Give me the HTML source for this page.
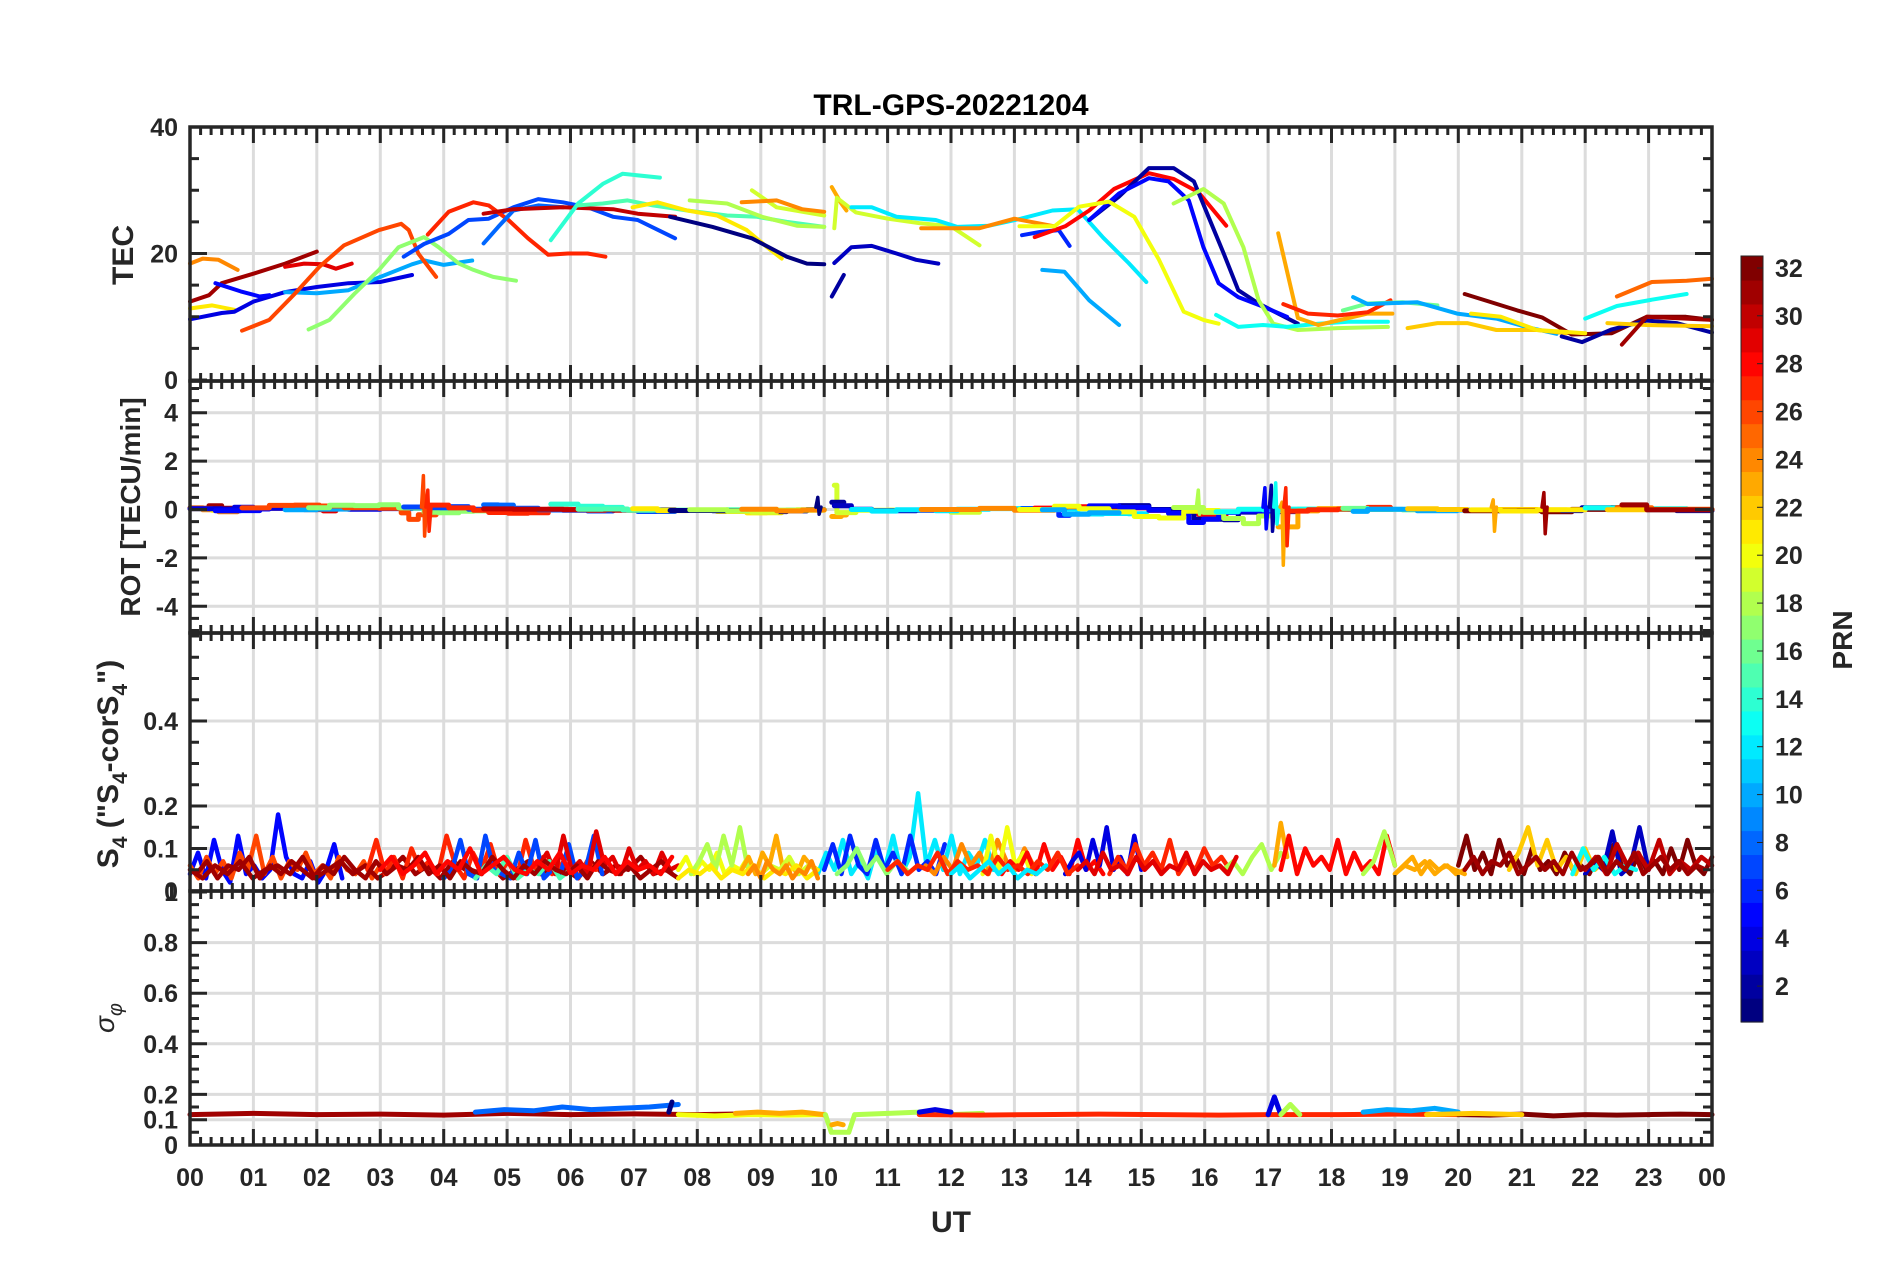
<!DOCTYPE html>
<html><head><meta charset="utf-8"><title>TRL-GPS-20221204</title>
<style>
html,body{margin:0;padding:0;background:#fff;}
svg{display:block;font-family:"Liberation Sans",Arial,sans-serif;}
</style></head>
<body>
<svg id="chart" width="1902" height="1272" viewBox="0 0 1902 1272" xmlns="http://www.w3.org/2000/svg">
<rect x="0" y="0" width="1902" height="1272" fill="#fff"/>
<g id="grids"></g>
<g id="series"></g>
<g id="axes"></g>
<g id="cbar"></g>
<text x="951" y="115" text-anchor="middle" font-size="30" font-weight="bold" fill="#000">TRL-GPS-20221204</text>
<text x="951" y="1232" text-anchor="middle" font-size="30" font-weight="bold" fill="#262626">UT</text>
<text transform="translate(133,255) rotate(-90)" text-anchor="middle" font-size="30" font-weight="bold" fill="#262626">TEC</text>
<text transform="translate(140,507) rotate(-90)" text-anchor="middle" font-size="28" font-weight="bold" fill="#262626">ROT [TECU/min]</text>
<text transform="translate(118,764) rotate(-90)" text-anchor="middle" font-size="30" font-weight="bold" fill="#262626">S<tspan font-size="21" dy="9">4</tspan><tspan dy="-9"> ("S</tspan><tspan font-size="21" dy="9">4</tspan><tspan dy="-9">-corS</tspan><tspan font-size="21" dy="9">4</tspan><tspan dy="-9">")</tspan></text>
<text transform="translate(114,1018) rotate(-90)" text-anchor="middle" font-size="28" font-style="italic" fill="#262626">σ<tspan font-size="20" dy="8">φ</tspan></text>
<text transform="translate(1852,640) rotate(-90)" text-anchor="middle" font-size="28" font-weight="bold" fill="#262626">PRN</text>
</svg>
<script>
// ---------- TEC arcs ----------
const tecPrn = [24,31,29,21,4,5,10,26,17,7,27,8,30,14,15,21,1,18,19,24,23,19,2,3,12,24,6,28,2,5,20,18,10,13,23,27,16,10,22,32,2,21,13,25,22,31];
const tecTimes = [
[0,0.2,0.45,0.75],[0,0.3,0.5,1.0,1.5,2.0],[1.5,1.8,2.1,2.3,2.55],[0,0.35,0.7],
[0,0.5,0.7,1.0,1.5,2.0,2.5,3.0,3.5],[0.4,0.8,1.1,1.25],[1.5,2.0,2.5,3.0,3.5,3.7,4.0,4.45],
[0.82,1.25,1.65,2.04,2.43,2.98,3.33,3.45,3.6,3.76,3.88],
[1.87,2.2,2.59,2.98,3.29,3.69,3.92,4.24,4.47,4.78,5.14],
[3.37,3.69,4.08,4.39,4.71,5.1,5.49,5.88,6.27,6.67,7.06,7.65],
[3.75,4.08,4.47,4.71,5.02,5.33,5.65,5.96,6.27,6.55],
[4.63,4.86,5.1,5.49,5.88],[4.63,5.1,5.88,6.67,7.06,7.65],[5.69,6.12,6.51,6.82,7.41],
[6.12,6.51,6.9,7.3,7.84,8.47,8.94,9.41,10.0],[6.98,7.37,7.84,8.31,8.78,9.1,9.33],
[7.57,8.24,8.86,9.41,9.73,10.0],[7.88,8.47,9.02,9.57,10.0],[8.86,9.25,10.0],[8.7,9.25,9.65,10.0],
[10.12,10.27,10.35],[10.16,10.2,10.5,11,11.5,12.0,12.45],[10.12,10.31],[10.16,10.43,10.75,11.14,11.45,11.8],
[10.43,10.75,11.14,11.76,12.1,12.6,13.1,13.6,14.0,14.4,14.8,15.08],[11.53,12.0,12.45,13.0,13.63],
[13.12,13.4,13.7,13.87],[13.32,13.8,14.18,14.57,15.12,15.51,15.9,16.34],
[14.18,14.65,15.12,15.51,15.83,16.06,16.3,16.53,16.85,17.16,17.47],
[14.18,14.65,15.12,15.43,15.75,15.98,16.22,16.53,16.92,17.3],
[13.08,13.63,14.02,14.49,14.89,15.28,15.67,15.98,16.22],
[15.51,15.98,16.3,16.61,16.85,17.08,17.47,18.1,18.89],[13.44,13.79,14.18,14.65],
[16.18,16.53,16.92,17.3,17.79,18.26,18.89],[17.16,17.47,17.79,18.1,18.57,18.96],
[17.24,17.63,18.1,18.57,18.93],[18.18,18.57,19.12,19.67],[18.34,18.57,19.35,19.98,20.6,21.07,21.55],
[19.2,19.67,20.14,20.6,21.24,21.71],[20.1,20.45,20.93,21.32,21.79,22.42,22.97,23.59,24],
[21.63,21.95,22.42,22.97,23.44,24],[20.2,20.67,21.24,22.0],[22.0,22.5,23.05,23.6],
[22.5,23.05,23.6,24],[22.35,22.97,24],[22.58,22.97,23.59,24]];
const tecValues = [
[18.4,19.2,19,17.4],[12.4,13.4,15.3,16.8,18.4,20.3],[17.9,18.4,18.3,17.6,18.4],[11.3,11.8,11.1],
[9.6,10.6,10.8,12.4,13.9,14.7,15.3,15.5,16.6],[15.3,14,13.2,13.4],[13.9,13.7,14.2,16.3,18.3,18.9,18.2,18.9],
[7.8,9.5,13.6,17.9,21.3,23.7,24.7,23.7,20,17.9,16.3],
[8,9.5,13.6,17.4,21,22.6,21,18.4,17.4,16.3,15.7],
[19.5,21.5,23.1,25.3,25.5,27.3,28.6,28.1,27.3,25.8,25.3,22.4],
[23,26.6,28.1,27.6,25.3,22.4,19.8,20,20,19.5],
[21.6,24.2,26.8,27.6,27.3],[26.3,27,27.3,27,26.3,25.8],[22.1,27.9,31,32.6,32],
[27.6,27.9,28.4,27.6,26.8,26,25.8,25,24.2],[27.3,28.1,26.8,26,23.7,21,19.2],
[25.8,24.2,22.4,19.5,18.4,18.3],[28.4,27.9,25.8,24.4,24.2],[30,27.3,26],[28.1,28.4,27,26.6],
[30.5,27.9,26.8],[24,28.8,26.5,25.5,24.8,24.3,21.3],[13.2,16.6],[18.5,21,21.2,20,19,18.4],
[27.3,27.3,25.8,25.3,24.2,24.4,25.5,26.8,27,22.5,18.5,15.5],[24,24,24,25.5,24.3],
[22.9,23.4,23.7,21.2],[22.6,24.3,26.8,30.2,32.7,31.8,29.7,24.4],
[25.3,29,33.5,33.5,31.4,25.8,20,14.2,12.1,10.5,8.9],
[25.3,29.5,31.9,31.4,28.4,21,15.3,13.1,11.6,10],
[24.3,24.3,27.4,28.2,25.8,19,10.8,9.5,8.9],
[27.9,30.2,27.9,21,12.6,8.9,7.9,8.2,8.4],[17.4,17.1,12.6,8.7],
[10.3,8.4,8.7,8.4,8.9,9.2,9.2],[23.2,9.8,8.7,9.4,10.5,10.5],
[12,10.5,10.2,10.7,12.6],[11,12.1,12.3,11.8],[13.1,12,12.3,10.5,9.7,8.4,7.3],
[8.2,9,9,7.9,7.9,7.4],[13.6,12.5,11,9.9,7.2,7.4,10,10,9.5],
[6.9,6,8,9.4,9,7.5],[10.5,10,7.9,7.4],[9.7,11.7,12.7,13.6],
[13.2,15.5,15.7,16],[9,8.7,8.5],[5.6,10,9.7,9.5]];

// ---------- ROT spikes ----------
const rotSpikeT   = [3.68,3.75,16.95,17.05,17.12,17.22,17.28,21.35,9.9,15.9,20.55];
const rotSpikeLo  = [-1.1,-0.9,-0.8,-0.9,-0.6,-2.3,-1.5,-1.0,-0.2,-0.2,-0.9];
const rotSpikeHi  = [1.4,0.8,0.9,1.0,1.1,0.3,0.9,0.7,0.5,0.8,0.4];
const rotSpikePrn = [26,27,5,2,13,23,27,31,1,18,23];

// ---------- S4 traces ----------
const s4Prn   = [5,26,31,27,7,29,15,20,18,23,19,12,6,17,24,20,28,4,27,18,23,28,18,23,32,22,3,13,30,31,28,21,24,27,12,29,23,31];
const s4Start = [0,0,0,2.8,4.0,5.5,4.5,7.7,7.9,8.7,9.0,9.9,10.0,10.2,11.6,12.5,12.8,13.8,14.5,16.3,17.1,17.2,18.5,19.0,20.0,20.8,22.0,21.8,22.0,0.1,3.0,7.7,8.8,11.0,12.0,14.0,19.0,20.1];
const s4End   = [2.4,3.0,7.7,6.4,6.5,7.7,6.0,8.8,8.8,9.9,9.9,12.8,11.9,11.3,13.3,13.4,14.4,15.0,16.4,17.2,17.3,19.0,19.0,20.1,24,22.3,23.0,22.8,24,7.6,7.6,9.9,9.9,14.0,13.5,16.5,20.1,23.9];
const s4Vals = [
[0.04,0.09,0.03,0.12,0.05,0.02,0.13,0.04,0.06,0.03,0.05,0.18,0.08,0.04,0.03,0.07,0.02,0.05,0.11,0.03],
[0.06,0.03,0.08,0.04,0.07,0.03,0.09,0.05,0.13,0.04,0.08,0.03,0.07,0.05,0.09,0.04,0.06,0.03,0.08,0.05,0.04,0.07,0.03,0.06],
[0.05,0.03,0.06,0.04,0.07,0.03,0.05,0.06,0.04,0.08,0.03,0.05,0.07,0.04,0.06,0.03,0.05,0.08,0.04,0.06,0.03,0.07,0.05,0.04,0.06,0.03,0.05,0.07,0.04,0.06,0.05,0.03,0.07,0.04,0.06,0.05,0.08,0.04,0.05,0.03],
[0.05,0.12,0.04,0.08,0.03,0.10,0.05,0.07,0.04,0.13,0.06,0.03,0.09,0.05,0.11,0.04,0.07,0.03,0.12,0.05,0.08,0.04,0.06,0.09,0.03,0.07,0.05],
[0.03,0.05,0.12,0.04,0.03,0.13,0.05,0.04,0.03,0.09,0.04,0.12,0.03,0.05,0.04,0.11,0.03,0.05,0.13,0.04],
[0.06,0.09,0.04,0.13,0.05,0.07,0.04,0.14,0.06,0.08,0.04,0.10,0.05,0.07,0.04,0.09,0.05,0.06],
[0.03,0.06,0.04,0.08,0.03,0.05,0.04,0.07,0.03,0.05],
[0.05,0.08,0.04,0.07,0.05,0.09,0.04,0.06,0.05,0.08],
[0.04,0.07,0.11,0.05,0.13,0.06,0.15,0.05],
[0.05,0.08,0.04,0.09,0.06,0.13,0.05,0.07,0.04,0.08,0.06,0.05],
[0.04,0.06,0.05,0.08,0.04,0.06,0.05],
[0.04,0.09,0.05,0.12,0.04,0.07,0.03,0.10,0.05,0.13,0.04,0.08,0.23,0.06,0.12,0.05,0.13,0.04,0.09,0.06,0.12,0.05,0.08],
[0.05,0.11,0.04,0.13,0.06,0.04,0.12,0.05,0.09,0.04,0.13,0.05,0.07,0.04,0.11],
[0.04,0.06,0.10,0.05,0.08,0.04,0.07,0.05],
[0.06,0.04,0.08,0.05,0.11,0.06,0.09,0.04,0.12,0.07,0.05,0.10,0.06],
[0.04,0.13,0.05,0.15,0.06,0.09,0.04,0.07],
[0.04,0.07,0.05,0.09,0.04,0.11,0.05,0.08,0.04,0.12,0.05,0.07,0.04],
[0.04,0.07,0.09,0.05,0.12,0.06,0.15,0.05,0.08,0.04,0.13,0.05],
[0.04,0.08,0.05,0.11,0.06,0.09,0.05,0.12,0.04,0.07,0.05,0.10,0.06,0.08,0.05],
[0.05,0.07,0.04,0.08,0.11,0.05,0.09],
[0.06,0.16,0.08],
[0.05,0.13,0.04,0.10,0.06,0.08,0.05,0.12,0.04,0.09,0.05,0.07,0.04,0.13,0.06],
[0.04,0.07,0.14,0.06],
[0.04,0.06,0.08,0.04,0.07,0.05,0.06,0.04,0.05],
[0.06,0.13,0.05,0.09,0.04,0.12,0.06,0.08,0.04,0.10,0.05,0.07,0.04,0.09,0.05,0.06,0.04,0.08,0.05,0.11,0.06,0.04,0.09,0.05,0.07,0.04,0.10,0.05,0.12,0.06,0.04,0.08],
[0.05,0.09,0.15,0.06,0.12,0.05,0.08,0.04,0.10,0.05,0.07],
[0.04,0.07,0.05,0.14,0.04,0.06,0.15,0.05],
[0.04,0.10,0.05,0.08,0.04,0.06,0.05],
[0.05,0.08,0.04,0.11,0.06,0.09,0.05,0.12,0.04,0.07,0.05,0.08,0.06],
[0.04,0.07,0.03,0.06,0.05,0.08,0.03,0.06,0.04,0.07,0.05,0.03,0.06,0.04,0.08,0.05,0.03,0.07,0.04,0.06,0.05,0.08,0.04,0.06,0.03,0.07,0.05,0.04,0.08,0.05,0.03,0.06,0.04,0.07,0.05,0.04,0.06,0.03,0.07,0.05,0.04,0.06,0.03,0.05,0.07,0.04],
[0.05,0.08,0.04,0.06,0.09,0.04,0.07,0.05,0.10,0.04,0.06,0.08,0.05,0.04,0.07,0.05,0.09,0.04,0.06,0.05,0.08,0.04,0.07,0.05,0.06,0.04,0.08],
[0.03,0.05,0.04,0.06,0.03,0.05,0.04,0.06,0.03,0.05,0.04,0.06,0.03,0.05],
[0.04,0.06,0.03,0.07,0.05,0.04,0.06,0.03,0.05,0.04,0.07,0.03],
[0.05,0.07,0.04,0.06,0.05,0.09,0.04,0.07,0.05,0.06,0.04,0.08,0.05,0.06,0.04,0.07,0.05,0.09,0.04,0.06],
[0.04,0.06,0.03,0.05,0.07,0.04,0.06,0.03,0.05,0.04,0.06],
[0.05,0.07,0.04,0.09,0.05,0.06,0.04,0.08,0.05,0.07,0.04,0.06,0.05,0.09,0.04,0.07,0.05,0.06,0.04,0.08],
[0.04,0.06,0.05,0.07,0.04,0.06,0.05,0.04],
[0.05,0.08,0.04,0.07,0.06,0.09,0.04,0.06,0.08,0.05,0.07,0.04,0.09,0.05,0.06,0.08,0.04,0.07,0.05,0.09,0.04,0.06,0.08,0.05,0.07,0.04,0.06,0.05]];

// ---------- sigma-phi traces ----------
const sigPrn   = [31,8,1,20,23,18,23,18,27,4,10,4,18,32,22];
const sigStart = [0,4.5,7.55,7.7,8.6,10.02,10.12,10.5,11.5,11.5,18.5,17.0,17.2,20,19.5];
const sigEnd   = [10.0,7.7,7.6,10.0,10.0,10.48,10.3,12.5,20,12.0,20,17.2,17.5,24,21];
const sigVals = [
[0.12,0.125,0.12,0.122,0.118,0.125,0.12,0.123,0.12,0.124,0.12],
[0.13,0.14,0.135,0.15,0.14,0.145,0.15,0.16],
[0.13,0.17],
[0.12,0.115,0.12,0.118,0.12],
[0.125,0.13,0.125,0.13,0.12],
[0.12,0.05,0.05,0.05,0.05,0.12],
[0.08,0.085,0.08],
[0.12,0.125,0.13,0.12,0.125],
[0.12,0.118,0.12,0.122,0.12,0.118,0.12,0.12,0.122,0.12],
[0.13,0.14,0.13],
[0.13,0.14,0.135,0.145,0.13],
[0.12,0.19,0.12],
[0.12,0.16,0.12],
[0.12,0.118,0.122,0.115,0.12,0.118,0.12,0.122,0.12],
[0.12,0.125,0.12]];

const xTickLabels = ['00','01','02','03','04','05','06','07','08','09','10','11','12','13','14','15','16','17','18','19','20','21','22','23','00'];
const cbarTickValues = [2,4,6,8,10,12,14,16,18,20,22,24,26,28,30,32];

// ---------- scales ----------
const X0 = 190, X1 = 1712;
function X(h){ return X0 + h*(X1-X0)/24; }
function yTEC(v){ return 380 - v*6.325; }
function yROT(v){ return 509.5 - v*24.2; }
function yS4(v){ return 891 - v*425; }
function ySig(v){ return 1145 - v*253; }
function jet(p){
  const x=(p-1)/31;
  const f=v=>Math.round(255*Math.max(0,Math.min(1,v)));
  return 'rgb('+f(1.5-Math.abs(4*x-3))+','+f(1.5-Math.abs(4*x-2))+','+f(1.5-Math.abs(4*x-1))+')';
}
const NS='http://www.w3.org/2000/svg';
function mk(tag, attrs, parent){
  const e=document.createElementNS(NS,tag);
  for(const k in attrs) e.setAttribute(k, attrs[k]);
  parent.appendChild(e); return e;
}
const gGrid=document.getElementById('grids');
const gSer=document.getElementById('series');
const gAx=document.getElementById('axes');
const gCb=document.getElementById('cbar');

const panels = [
 {name:'tec', top:127, bot:381, y:yTEC, majors:[0,20,40], labels:['0','20','40'], grid:[20], minMin:0, minMax:40, minStep:5},
 {name:'rot', top:381, bot:633, y:yROT, majors:[-4,-2,0,2,4], labels:['-4','-2','0','2','4'], grid:[-4,-2,0,2,4], minMin:-5, minMax:5, minStep:0.5},
 {name:'s4', top:633, bot:891, y:yS4, majors:[0,0.1,0.2,0.4], labels:['0','0.1','0.2','0.4'], grid:[0.1,0.2,0.4], minMin:0, minMax:0.6, minStep:0.05},
 {name:'sigma', top:891, bot:1145, y:ySig, majors:[0,0.1,0.2,0.4,0.6,0.8,1], labels:['0','0.1','0.2','0.4','0.6','0.8','1'], grid:[0.1,0.2,0.4,0.6,0.8], minMin:0, minMax:1, minStep:0.05}
];

panels.forEach(p=>{
  let d='';
  for(let h=1;h<24;h++){ const x=X(h).toFixed(1); d+='M'+x+' '+p.top+'V'+p.bot; }
  p.grid.forEach(v=>{ const y=p.y(v).toFixed(1); d+='M'+X0+' '+y+'H'+X1; });
  const g=mk('path',{d:d,stroke:'#dcdcdc','stroke-width':3,fill:'none'},gGrid);
  
  
});

function poly(pts, color, w, parent){
  return mk('polyline',{points:pts.map(p=>p[0].toFixed(1)+','+p[1].toFixed(1)).join(' '),fill:'none',stroke:color,'stroke-width':w,'stroke-linejoin':'round','stroke-linecap':'round'},parent);
}
const gTec=mk('g',{},gSer);


tecPrn.forEach((prn,i)=>{
  const pts=tecTimes[i].map((t,j)=>[X(t), yTEC(tecValues[i][j])]);
  const e=poly(pts, jet(prn), 4, gTec);
  
  
});

const gRot=mk('g',{},gSer);


tecPrn.forEach((prn,i)=>{
  const t=tecTimes[i], v=tecValues[i];
  if(t.length<2) return;
  const pts=[];
  for(let j=0;j<t.length-1;j++){
    const dt=t[j+1]-t[j]; if(dt<=0) continue;
    let r=(v[j+1]-v[j])/dt/60;
    r=Math.max(-1.0,Math.min(1.0,r));
    pts.push([X(t[j]), yROT(r)]);
    pts.push([X(t[j+1]), yROT(r)]);
  }
  if(!pts.length) return;
  const e=poly(pts, jet(prn), 5, gRot);
  
  
});
rotSpikeT.forEach((t,i)=>{
  const pts=[[X(t-0.03),yROT(0.1)],[X(t),yROT(rotSpikeHi[i])],[X(t+0.02),yROT(rotSpikeLo[i])],[X(t+0.05),yROT(0.1)]];
  const e=poly(pts, jet(rotSpikePrn[i]), 3.5, gRot);
  
  
});

const gS4=mk('g',{},gSer);


s4Prn.forEach((prn,i)=>{
  const vals=s4Vals[i], n=vals.length;
  const pts=vals.map((v,j)=>[X(s4Start[i]+(s4End[i]-s4Start[i])*j/(n-1)), yS4(v)]);
  const e=poly(pts, jet(prn), 4.5, gS4);
  
  
});

const gSig=mk('g',{},gSer);


sigPrn.forEach((prn,i)=>{
  const vals=sigVals[i], n=vals.length;
  const pts=vals.map((v,j)=>[X(sigStart[i]+(sigEnd[i]-sigStart[i])*j/(n-1)), ySig(v)]);
  const e=poly(pts, jet(prn), 5, gSig);
  
  
});

panels.forEach(p=>{
  let d='';
  for(let m=0;m<=24*6;m++){
    const x=X(m/6).toFixed(1);
    const L=(m%6===0)?16:8;
    d+='M'+x+' '+p.bot+'v'+(-L)+'M'+x+' '+p.top+'v'+L;
  }
  const nMin=Math.round((p.minMax-p.minMin)/p.minStep);
  for(let k=0;k<=nMin;k++){
    const v=p.minMin+k*p.minStep;
    const y=p.y(v); if(y<p.top-0.5||y>p.bot+0.5) continue;
    const isMaj=p.majors.some(m=>Math.abs(m-v)<1e-6);
    const L=isMaj?17:9;
    d+='M'+X0+' '+y.toFixed(1)+'h'+L+'M'+X1+' '+y.toFixed(1)+'h'+(-L);
  }
  const t=mk('path',{d:d,stroke:'#262626','stroke-width':3,fill:'none'},gAx);
  
  
  const fr=mk('rect',{x:X0,y:p.top,width:X1-X0,height:p.bot-p.top,fill:'none',stroke:'#262626','stroke-width':3.5},gAx);
  
  
  p.majors.forEach((v,k)=>{
    const tx=mk('text',{x:178,y:(p.y(v)+9).toFixed(1),'text-anchor':'end','font-size':25,'font-weight':'bold',fill:'#262626'},gAx);
    tx.textContent=p.labels[k];
    
    
  });
});
xTickLabels.forEach((lab,h)=>{
  const tx=mk('text',{x:X(h).toFixed(1),y:1186,'text-anchor':'middle','font-size':25,'font-weight':'bold',fill:'#262626'},gAx);
  tx.textContent=lab;
  
  
});

// colorbar
const CB_X=1741, CB_W=22, CB_TOP=256, CB_BOT=1022;
function yCb(v){ return CB_BOT - (v-0.5)*(CB_BOT-CB_TOP)/32; }
for(let k=0;k<32;k++){
  const yTop=CB_BOT-(k+1)*(CB_BOT-CB_TOP)/32;
  const r=mk('rect',{x:CB_X,y:yTop.toFixed(2),width:CB_W,height:((CB_BOT-CB_TOP)/32+0.6).toFixed(2),fill:jet(k+1)},gCb);
  
  
}
const cbf=mk('rect',{x:CB_X,y:CB_TOP,width:CB_W,height:CB_BOT-CB_TOP,fill:'none',stroke:'#262626','stroke-width':1},gCb);


cbarTickValues.forEach(v=>{
  const y=Math.max(CB_TOP,yCb(v));
  const tk=mk('path',{d:'M'+(CB_X+CB_W)+' '+y.toFixed(1)+'h-6',stroke:'#262626','stroke-width':1},gCb);
  
  
  const tx=mk('text',{x:1775,y:(y+9).toFixed(1),'font-size':25,'font-weight':'bold',fill:'#262626'},gCb);
  tx.textContent=String(v);
  
  
});
</script>
</body></html>
